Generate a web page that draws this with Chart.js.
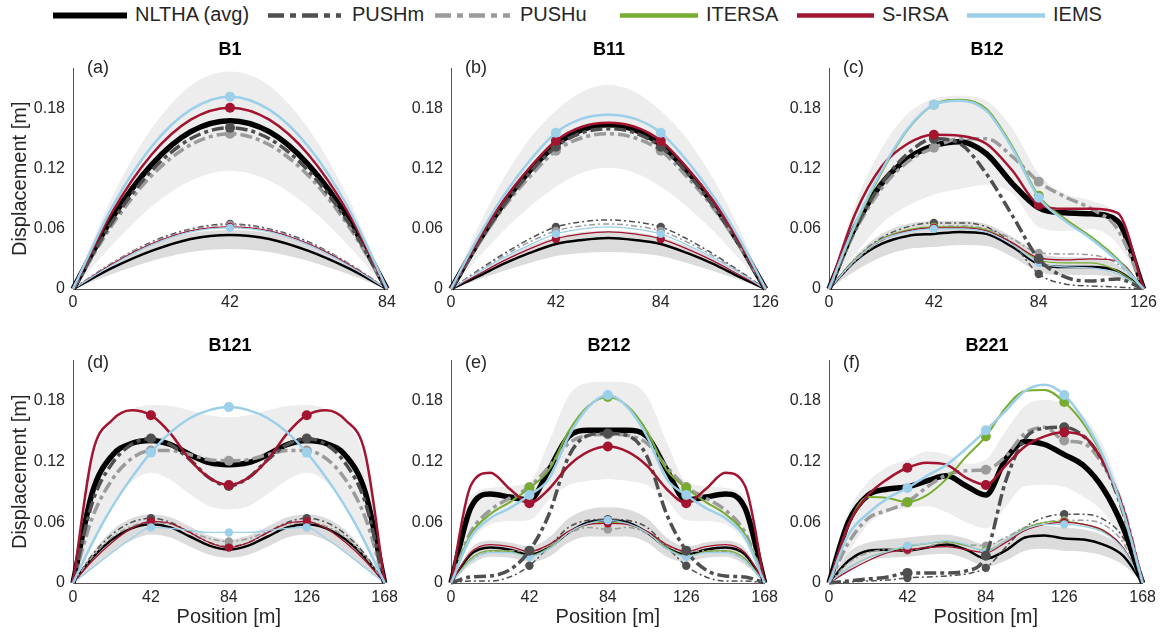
<!DOCTYPE html>
<html>
<head>
<meta charset="utf-8">
<script src="https://cdn.jsdelivr.net/npm/chart.js@4.4.1/dist/chart.umd.min.js"></script>
<style>
  body { margin: 0; background: #fff; }
  #wrap { position: relative; width: 1166px; height: 633px; overflow: hidden;
          font-family: "Liberation Sans", Arial, sans-serif; color: #262626; }
  canvas { position: absolute; }
  .ttl { position: absolute; font-weight: bold; font-size: 18px; color: #000;
         transform: translate(-50%, -50%); white-space: nowrap; z-index: 2; }
  .tag { position: absolute; font-size: 18px; transform: translateY(-50%); z-index: 2; }
  .lt { position: absolute; font-size: 20px; top: 14px; transform: translateY(-50%); white-space: nowrap; }
  svg.sw { position: absolute; top: 10px; }
</style>
</head>
<body>
<div id="wrap"></div>
<script>
// positions along the bridge [m]
const pos84 = [0, 10.5, 21, 31.5, 42, 52.5, 63, 73.5, 84];
const pos126 = [0, 10.5, 21, 31.5, 42, 52.5, 63, 73.5, 84, 94.5, 105, 115.5, 126];
const pos168 = [0, 10.5, 21, 31.5, 42, 52.5, 63, 73.5, 84, 94.5, 105, 115.5, 126, 136.5, 147, 157.5, 168];
const xt84 = [0, 42, 84];
const xt126 = [0, 42, 84, 126];
const xt168 = [0, 42, 84, 126, 168];
const yTicks = [0, 0.06, 0.12, 0.18];

// B1
const b1HiBandUp = [0, 0.092, 0.160, 0.203, 0.217, 0.203, 0.160, 0.092, 0];
const b1HiBandLo = [0, 0.044, 0.082, 0.108, 0.118, 0.108, 0.082, 0.044, 0];
const b1LoBandUp = [0, 0.026, 0.045, 0.056, 0.059, 0.056, 0.045, 0.026, 0];
const b1LoBandLo = [0, 0.015, 0.028, 0.037, 0.040, 0.037, 0.028, 0.015, 0];
const b1NlthaHi = [0, 0.071, 0.124, 0.157, 0.168, 0.157, 0.124, 0.071, 0];
const b1PushmHi = [0, 0.067, 0.118, 0.150, 0.161, 0.150, 0.118, 0.067, 0];
const b1PushuHi = [0, 0.064, 0.113, 0.144, 0.155, 0.144, 0.113, 0.064, 0];
const b1SirsaHi = [0, 0.077, 0.134, 0.169, 0.181, 0.169, 0.134, 0.077, 0];
const b1IemsHi = [0, 0.082, 0.142, 0.179, 0.192, 0.179, 0.142, 0.082, 0];
const b1NlthaLo = [0, 0.021, 0.038, 0.050, 0.054, 0.050, 0.038, 0.021, 0];
const b1PushmLo = [0, 0.026, 0.047, 0.060, 0.065, 0.060, 0.047, 0.026, 0];
const b1PushuLo = [0, 0.026, 0.046, 0.059, 0.064, 0.059, 0.046, 0.026, 0];
const b1SirsaLo = [0, 0.025, 0.045, 0.058, 0.062, 0.058, 0.045, 0.025, 0];
const b1IemsLo = [0, 0.024, 0.044, 0.057, 0.061, 0.057, 0.044, 0.024, 0];

// B11
const b11HiBandUp = [0, 0.060, 0.110, 0.150, 0.178, 0.197, 0.204, 0.197, 0.178, 0.150, 0.110, 0.060, 0];
const b11HiBandLo = [0, 0.030, 0.058, 0.082, 0.102, 0.116, 0.121, 0.116, 0.102, 0.082, 0.058, 0.030, 0];
const b11LoBandUp = [0, 0.015, 0.030, 0.043, 0.052, 0.057, 0.058, 0.057, 0.052, 0.043, 0.030, 0.015, 0];
const b11LoBandLo = [0, 0.009, 0.018, 0.026, 0.033, 0.036, 0.037, 0.036, 0.033, 0.026, 0.018, 0.009, 0];
const b11NlthaHi = [0, 0.045, 0.085, 0.118, 0.144, 0.159, 0.164, 0.159, 0.144, 0.118, 0.085, 0.045, 0];
const b11PushmHi = [0, 0.044, 0.083, 0.116, 0.142, 0.156, 0.160, 0.156, 0.142, 0.116, 0.083, 0.044, 0];
const b11PushuHi = [0, 0.043, 0.081, 0.112, 0.138, 0.151, 0.155, 0.151, 0.138, 0.112, 0.081, 0.043, 0];
const b11SirsaHi = [0, 0.047, 0.088, 0.121, 0.148, 0.162, 0.166, 0.162, 0.148, 0.121, 0.088, 0.047, 0];
const b11IemsHi = [0, 0.050, 0.093, 0.128, 0.156, 0.170, 0.174, 0.170, 0.156, 0.128, 0.093, 0.050, 0];
const b11NlthaLo = [0, 0.012, 0.025, 0.036, 0.045, 0.049, 0.051, 0.049, 0.045, 0.036, 0.025, 0.012, 0];
const b11PushmLo = [0, 0.018, 0.035, 0.050, 0.062, 0.067, 0.069, 0.067, 0.062, 0.050, 0.035, 0.018, 0];
const b11PushuLo = [0, 0.017, 0.033, 0.047, 0.058, 0.063, 0.065, 0.063, 0.058, 0.047, 0.033, 0.017, 0];
const b11SirsaLo = [0, 0.014, 0.028, 0.040, 0.050, 0.055, 0.057, 0.055, 0.050, 0.040, 0.028, 0.014, 0];
const b11IemsLo = [0, 0.016, 0.031, 0.044, 0.055, 0.060, 0.062, 0.060, 0.055, 0.044, 0.031, 0.016, 0];

// B12
const b12HiBandUp = [0, 0.085, 0.140, 0.175, 0.190, 0.193, 0.188, 0.160, 0.115, 0.095, 0.088, 0.072, 0];
const b12HiBandLo = [0, 0.035, 0.065, 0.083, 0.094, 0.100, 0.104, 0.095, 0.062, 0.058, 0.060, 0.045, 0];
const b12LoBandUp = [0, 0.033, 0.055, 0.065, 0.068, 0.068, 0.065, 0.052, 0.036, 0.032, 0.031, 0.024, 0];
const b12LoBandLo = [0, 0.018, 0.032, 0.040, 0.042, 0.044, 0.043, 0.032, 0.017, 0.014, 0.014, 0.011, 0];
const b12NlthaHi = [0, 0.062, 0.105, 0.130, 0.143, 0.147, 0.135, 0.105, 0.081, 0.076, 0.075, 0.068, 0];
const b12PushmHi = [0, 0.060, 0.105, 0.135, 0.150, 0.145, 0.115, 0.073, 0.030, 0.012, 0.008, 0.010, 0];
const b12PushuHi = [0, 0.058, 0.100, 0.127, 0.141, 0.150, 0.150, 0.132, 0.107, 0.092, 0.080, 0.060, 0];
const b12ItersaHi = [0, 0.063, 0.116, 0.159, 0.184, 0.189, 0.180, 0.142, 0.093, 0.070, 0.052, 0.030, 0];
const b12SirsaHi = [0, 0.075, 0.122, 0.145, 0.154, 0.153, 0.145, 0.118, 0.084, 0.080, 0.080, 0.076, 0];
const b12IemsHi = [0, 0.065, 0.118, 0.160, 0.184, 0.188, 0.178, 0.140, 0.091, 0.068, 0.050, 0.028, 0];
const b12NlthaLo = [0, 0.028, 0.045, 0.053, 0.055, 0.057, 0.055, 0.042, 0.025, 0.022, 0.022, 0.018, 0];
const b12PushmLo = [0, 0.030, 0.051, 0.062, 0.066, 0.066, 0.062, 0.045, 0.015, 0.005, 0.003, 0.002, 0];
const b12PushuLo = [0, 0.028, 0.048, 0.058, 0.062, 0.063, 0.060, 0.050, 0.036, 0.035, 0.034, 0.025, 0];
const b12ItersaLo = [0, 0.030, 0.050, 0.059, 0.062, 0.062, 0.059, 0.046, 0.029, 0.026, 0.026, 0.018, 0];
const b12SirsaLo = [0, 0.029, 0.049, 0.058, 0.061, 0.061, 0.058, 0.046, 0.031, 0.029, 0.030, 0.028, 0];
const b12IemsLo = [0, 0.029, 0.049, 0.057, 0.060, 0.060, 0.057, 0.044, 0.026, 0.022, 0.021, 0.015, 0];

// B121
const b121HiBandUp = [0, 0.120, 0.160, 0.172, 0.176, 0.175, 0.171, 0.166, 0.164, 0.166, 0.171, 0.175, 0.176, 0.172, 0.160, 0.120, 0];
const b121HiBandLo = [0, 0.040, 0.078, 0.100, 0.109, 0.102, 0.088, 0.076, 0.073, 0.076, 0.088, 0.102, 0.109, 0.100, 0.078, 0.040, 0];
const b121LoBandUp = [0, 0.030, 0.052, 0.064, 0.068, 0.065, 0.056, 0.047, 0.043, 0.047, 0.056, 0.065, 0.068, 0.064, 0.052, 0.030, 0];
const b121LoBandLo = [0, 0.014, 0.030, 0.042, 0.048, 0.045, 0.036, 0.028, 0.025, 0.028, 0.036, 0.045, 0.048, 0.042, 0.030, 0.014, 0];
const b121NlthaHi = [0, 0.090, 0.126, 0.138, 0.141, 0.137, 0.127, 0.119, 0.117, 0.119, 0.127, 0.137, 0.141, 0.138, 0.126, 0.090, 0];
const b121PushmHi = [0, 0.080, 0.118, 0.137, 0.143, 0.137, 0.122, 0.104, 0.096, 0.104, 0.122, 0.137, 0.143, 0.137, 0.118, 0.080, 0];
const b121PushuHi = [0, 0.065, 0.102, 0.123, 0.131, 0.131, 0.127, 0.122, 0.121, 0.122, 0.127, 0.131, 0.131, 0.123, 0.102, 0.065, 0];
const b121SirsaHi = [0, 0.128, 0.161, 0.171, 0.166, 0.148, 0.122, 0.104, 0.097, 0.104, 0.122, 0.148, 0.166, 0.171, 0.161, 0.128, 0];
const b121IemsHi = [0, 0.040, 0.075, 0.104, 0.129, 0.149, 0.163, 0.171, 0.174, 0.171, 0.163, 0.149, 0.129, 0.104, 0.075, 0.040, 0];
const b121NlthaLo = [0, 0.025, 0.043, 0.054, 0.058, 0.055, 0.046, 0.037, 0.033, 0.037, 0.046, 0.055, 0.058, 0.054, 0.043, 0.025, 0];
const b121PushmLo = [0, 0.028, 0.048, 0.060, 0.064, 0.060, 0.050, 0.040, 0.036, 0.040, 0.050, 0.060, 0.064, 0.060, 0.048, 0.028, 0];
const b121PushuLo = [0, 0.026, 0.045, 0.056, 0.060, 0.058, 0.051, 0.044, 0.041, 0.044, 0.051, 0.058, 0.060, 0.056, 0.045, 0.026, 0];
const b121SirsaLo = [0, 0.022, 0.040, 0.054, 0.061, 0.059, 0.050, 0.040, 0.035, 0.040, 0.050, 0.059, 0.061, 0.054, 0.040, 0.022, 0];
const b121IemsLo = [0, 0.015, 0.030, 0.044, 0.055, 0.054, 0.052, 0.050, 0.050, 0.050, 0.052, 0.054, 0.055, 0.044, 0.030, 0.015, 0];

// B212
const b212HiBandUp = [0, 0.085, 0.094, 0.096, 0.100, 0.140, 0.185, 0.198, 0.199, 0.198, 0.185, 0.140, 0.100, 0.096, 0.094, 0.085, 0];
const b212HiBandLo = [0, 0.040, 0.058, 0.061, 0.062, 0.082, 0.097, 0.101, 0.103, 0.101, 0.097, 0.082, 0.062, 0.061, 0.058, 0.040, 0];
const b212LoBandUp = [0, 0.034, 0.042, 0.040, 0.036, 0.045, 0.064, 0.073, 0.075, 0.073, 0.064, 0.045, 0.036, 0.040, 0.042, 0.034, 0];
const b212LoBandLo = [0, 0.018, 0.026, 0.025, 0.021, 0.026, 0.040, 0.046, 0.046, 0.046, 0.040, 0.026, 0.021, 0.025, 0.026, 0.018, 0];
const b212NlthaHi = [0, 0.074, 0.088, 0.085, 0.082, 0.112, 0.145, 0.151, 0.151, 0.151, 0.145, 0.112, 0.082, 0.085, 0.088, 0.074, 0];
const b212PushmHi = [0, 0.006, 0.007, 0.013, 0.032, 0.068, 0.125, 0.146, 0.148, 0.146, 0.125, 0.068, 0.032, 0.013, 0.007, 0.006, 0];
const b212PushuHi = [0, 0.050, 0.072, 0.084, 0.095, 0.115, 0.138, 0.146, 0.147, 0.146, 0.138, 0.115, 0.095, 0.084, 0.072, 0.050, 0];
const b212ItersaHi = [0, 0.048, 0.068, 0.080, 0.094, 0.112, 0.150, 0.175, 0.184, 0.175, 0.150, 0.112, 0.094, 0.080, 0.068, 0.048, 0];
const b212SirsaHi = [0, 0.096, 0.109, 0.093, 0.079, 0.093, 0.116, 0.130, 0.135, 0.130, 0.116, 0.093, 0.079, 0.093, 0.109, 0.096, 0];
const b212IemsHi = [0, 0.045, 0.064, 0.074, 0.087, 0.103, 0.145, 0.174, 0.186, 0.174, 0.145, 0.103, 0.087, 0.074, 0.064, 0.045, 0];
const b212NlthaLo = [0, 0.028, 0.035, 0.033, 0.028, 0.035, 0.050, 0.060, 0.062, 0.060, 0.050, 0.035, 0.028, 0.033, 0.035, 0.028, 0];
const b212PushmLo = [0, 0.002, 0.002, 0.006, 0.017, 0.036, 0.055, 0.062, 0.063, 0.062, 0.055, 0.036, 0.017, 0.006, 0.002, 0.002, 0];
const b212PushuLo = [0, 0.022, 0.031, 0.032, 0.031, 0.037, 0.049, 0.055, 0.053, 0.055, 0.049, 0.037, 0.031, 0.032, 0.031, 0.022, 0];
const b212ItersaLo = [0, 0.024, 0.032, 0.031, 0.027, 0.035, 0.050, 0.058, 0.060, 0.058, 0.050, 0.035, 0.027, 0.031, 0.032, 0.024, 0];
const b212SirsaLo = [0, 0.030, 0.038, 0.036, 0.031, 0.038, 0.051, 0.058, 0.059, 0.058, 0.051, 0.038, 0.031, 0.036, 0.038, 0.030, 0];
const b212IemsLo = [0, 0.022, 0.030, 0.030, 0.026, 0.034, 0.050, 0.059, 0.062, 0.059, 0.050, 0.034, 0.026, 0.030, 0.030, 0.022, 0];

// B221
const b221HiBandUp = [0, 0.070, 0.100, 0.115, 0.122, 0.130, 0.127, 0.118, 0.122, 0.150, 0.175, 0.181, 0.178, 0.165, 0.135, 0.080, 0];
const b221HiBandLo = [0, 0.030, 0.058, 0.070, 0.074, 0.076, 0.070, 0.060, 0.054, 0.075, 0.096, 0.097, 0.095, 0.085, 0.070, 0.040, 0];
const b221LoBandUp = [0, 0.030, 0.040, 0.043, 0.045, 0.047, 0.048, 0.044, 0.038, 0.045, 0.056, 0.057, 0.055, 0.053, 0.047, 0.034, 0];
const b221LoBandLo = [0, 0.012, 0.022, 0.025, 0.026, 0.028, 0.029, 0.024, 0.016, 0.022, 0.032, 0.034, 0.032, 0.031, 0.027, 0.018, 0];
const b221NlthaHi = [0, 0.061, 0.087, 0.093, 0.095, 0.101, 0.106, 0.096, 0.087, 0.122, 0.140, 0.137, 0.127, 0.116, 0.093, 0.055, 0];
const b221PushmHi = [0, 0.002, 0.004, 0.006, 0.010, 0.010, 0.010, 0.012, 0.027, 0.100, 0.143, 0.153, 0.154, 0.145, 0.119, 0.070, 0];
const b221PushuHi = [0, 0.040, 0.064, 0.072, 0.080, 0.095, 0.107, 0.111, 0.112, 0.125, 0.148, 0.154, 0.141, 0.138, 0.116, 0.075, 0];
const b221ItersaHi = [0, 0.058, 0.085, 0.084, 0.080, 0.087, 0.103, 0.125, 0.145, 0.173, 0.190, 0.191, 0.179, 0.157, 0.123, 0.070, 0];
const b221SirsaHi = [0, 0.058, 0.087, 0.103, 0.114, 0.119, 0.117, 0.104, 0.097, 0.116, 0.135, 0.145, 0.149, 0.145, 0.119, 0.074, 0];
const b221IemsHi = [0, 0.048, 0.069, 0.084, 0.094, 0.106, 0.117, 0.133, 0.151, 0.170, 0.190, 0.196, 0.186, 0.161, 0.125, 0.071, 0];
const b221NlthaLo = [0, 0.022, 0.032, 0.033, 0.032, 0.035, 0.038, 0.033, 0.024, 0.032, 0.045, 0.047, 0.044, 0.043, 0.038, 0.027, 0];
const b221PushmLo = [0, 0.001, 0.002, 0.003, 0.005, 0.006, 0.007, 0.009, 0.015, 0.035, 0.055, 0.065, 0.068, 0.068, 0.063, 0.045, 0];
const b221PushuLo = [0, 0.020, 0.030, 0.033, 0.032, 0.036, 0.040, 0.038, 0.037, 0.045, 0.055, 0.060, 0.062, 0.062, 0.058, 0.040, 0];
const b221ItersaLo = [0, 0.015, 0.025, 0.031, 0.036, 0.039, 0.041, 0.037, 0.032, 0.042, 0.054, 0.060, 0.061, 0.058, 0.051, 0.035, 0];
const b221SirsaLo = [0, 0.012, 0.022, 0.030, 0.033, 0.035, 0.036, 0.033, 0.030, 0.040, 0.052, 0.058, 0.060, 0.058, 0.052, 0.035, 0];
const b221IemsLo = [0, 0.015, 0.025, 0.031, 0.037, 0.039, 0.042, 0.038, 0.031, 0.042, 0.053, 0.058, 0.058, 0.056, 0.050, 0.034, 0];

const FONT = '"Liberation Sans", Arial, sans-serif';
const TXT = '#262626';

const styles = {
  nltha:  { label: 'NLTHA (avg)', color: '#000000', hiW: 5.5, loW: 2.5, hiDash: [], loDash: [], marker: false },
  pushm:  { label: 'PUSHm', color: '#4f4f4f', hiW: 3.5, loW: 1.5, hiDash: [12, 4, 4, 4], loDash: [6, 3, 2, 3], marker: true },
  pushu:  { label: 'PUSHu', color: '#9b9b9b', hiW: 3.5, loW: 1.5, hiDash: [12, 4, 4, 4], loDash: [6, 3, 2, 3], marker: true },
  itersa: { label: 'ITERSA', color: '#77ac30', hiW: 2, loW: 1.2, hiDash: [], loDash: [], marker: true },
  sirsa:  { label: 'S-IRSA', color: '#a2142f', hiW: 2.5, loW: 1.3, hiDash: [], loDash: [], marker: true },
  iems:   { label: 'IEMS', color: '#9ccfea', hiW: 2.5, loW: 1.3, hiDash: [], loDash: [], marker: true },
};
const loOrder = ['nltha', 'pushm', 'pushu', 'itersa', 'sirsa', 'iems'];
const hiOrder = ['nltha', 'pushu', 'pushm', 'itersa', 'sirsa', 'iems'];

const panels = [
  { name: 'B1', tag: '(a)', row: 0, col: 0, len: 84, pos: pos84, xt: xt84,
    hiBand: [b1HiBandUp, b1HiBandLo], loBand: [b1LoBandUp, b1LoBandLo],
    hi: { nltha: b1NlthaHi, pushm: b1PushmHi, pushu: b1PushuHi, sirsa: b1SirsaHi, iems: b1IemsHi },
    lo: { nltha: b1NlthaLo, pushm: b1PushmLo, pushu: b1PushuLo, sirsa: b1SirsaLo, iems: b1IemsLo } },
  { name: 'B11', tag: '(b)', row: 0, col: 1, len: 126, pos: pos126, xt: xt126,
    hiBand: [b11HiBandUp, b11HiBandLo], loBand: [b11LoBandUp, b11LoBandLo],
    hi: { nltha: b11NlthaHi, pushm: b11PushmHi, pushu: b11PushuHi, sirsa: b11SirsaHi, iems: b11IemsHi },
    lo: { nltha: b11NlthaLo, pushm: b11PushmLo, pushu: b11PushuLo, sirsa: b11SirsaLo, iems: b11IemsLo } },
  { name: 'B12', tag: '(c)', row: 0, col: 2, len: 126, pos: pos126, xt: xt126,
    hiBand: [b12HiBandUp, b12HiBandLo], loBand: [b12LoBandUp, b12LoBandLo],
    hi: { nltha: b12NlthaHi, pushm: b12PushmHi, pushu: b12PushuHi, itersa: b12ItersaHi, sirsa: b12SirsaHi, iems: b12IemsHi },
    lo: { nltha: b12NlthaLo, pushm: b12PushmLo, pushu: b12PushuLo, itersa: b12ItersaLo, sirsa: b12SirsaLo, iems: b12IemsLo } },
  { name: 'B121', tag: '(d)', row: 1, col: 0, len: 168, pos: pos168, xt: xt168,
    hiBand: [b121HiBandUp, b121HiBandLo], loBand: [b121LoBandUp, b121LoBandLo],
    hi: { nltha: b121NlthaHi, pushm: b121PushmHi, pushu: b121PushuHi, sirsa: b121SirsaHi, iems: b121IemsHi },
    lo: { nltha: b121NlthaLo, pushm: b121PushmLo, pushu: b121PushuLo, sirsa: b121SirsaLo, iems: b121IemsLo } },
  { name: 'B212', tag: '(e)', row: 1, col: 1, len: 168, pos: pos168, xt: xt168,
    hiBand: [b212HiBandUp, b212HiBandLo], loBand: [b212LoBandUp, b212LoBandLo],
    hi: { nltha: b212NlthaHi, pushm: b212PushmHi, pushu: b212PushuHi, itersa: b212ItersaHi, sirsa: b212SirsaHi, iems: b212IemsHi },
    lo: { nltha: b212NlthaLo, pushm: b212PushmLo, pushu: b212PushuLo, itersa: b212ItersaLo, sirsa: b212SirsaLo, iems: b212IemsLo } },
  { name: 'B221', tag: '(f)', row: 1, col: 2, len: 168, pos: pos168, xt: xt168,
    hiBand: [b221HiBandUp, b221HiBandLo], loBand: [b221LoBandUp, b221LoBandLo],
    hi: { nltha: b221NlthaHi, pushm: b221PushmHi, pushu: b221PushuHi, itersa: b221ItersaHi, sirsa: b221SirsaHi, iems: b221IemsHi },
    lo: { nltha: b221NlthaLo, pushm: b221PushmLo, pushu: b221PushuLo, itersa: b221ItersaLo, sirsa: b221SirsaLo, iems: b221IemsLo } },
];

// layout of the grid
const cols = [{ left: 0, w: 314 }, { left: 378, w: 316 }, { left: 756, w: 316 }];
const rows = [{ top: 51, h: 226, xh: 30 }, { top: 343, h: 228, xh: 47 }];
const YW = 73, PADT = 12, PADR = 16;

const wrap = document.getElementById('wrap');

// legend
const legendItems = [
  { key: 'nltha', x0: 53, x1: 127, tx: 135, w: 6 },
  { key: 'pushm', x0: 268, x1: 341, tx: 352, w: 4.5 },
  { key: 'pushu', x0: 435, x1: 510, tx: 520, w: 4.5 },
  { key: 'itersa', x0: 620, x1: 698, tx: 706, w: 4.5 },
  { key: 'sirsa', x0: 797, x1: 874, tx: 882, w: 4.5 },
  { key: 'iems', x0: 967, x1: 1045, tx: 1053, w: 4.5 },
];
legendItems.forEach((it) => {
  const s = styles[it.key];
  const dash = s.hiDash.length ? 'stroke-dasharray="16 6 6 6"' : '';
  const svg = document.createElementNS('http://www.w3.org/2000/svg', 'svg');
  svg.setAttribute('class', 'sw');
  svg.setAttribute('width', it.x1 - it.x0);
  svg.setAttribute('height', 11);
  svg.style.left = it.x0 + 'px';
  svg.innerHTML = `<line x1="0" y1="5.5" x2="${it.x1 - it.x0}" y2="5.5" stroke="${s.color}" stroke-width="${it.w}" ${dash}/>`;
  wrap.appendChild(svg);
  const t = document.createElement('span');
  t.className = 'lt';
  t.style.left = it.tx + 'px';
  t.textContent = s.label;
  wrap.appendChild(t);
});

function pts(pos, arr) {
  return arr.map((y, i) => ({ x: pos[i], y }));
}

function buildDatasets(p) {
  const ds = [];
  const band = (pair, color) => {
    ds.push({ data: pts(p.pos, pair[0]), fill: '+1', backgroundColor: color, borderWidth: 0, pointRadius: 0 });
    ds.push({ data: pts(p.pos, pair[1]), fill: false, borderWidth: 0, pointRadius: 0 });
  };
  band(p.hiBand, '#ededed');
  band(p.loBand, '#dcdcdc');

  const series = (set, order, hi) => {
    order.forEach((k) => {
      if (!set[k]) return;
      const s = styles[k];
      const r = s.marker ? (hi ? 5 : 4.2) : 0;
      ds.push({
        data: pts(p.pos, set[k]),
        borderColor: s.color,
        backgroundColor: s.color,
        borderWidth: hi ? s.hiW : s.loW,
        borderDash: hi ? s.hiDash : s.loDash,
        fill: false,
        pointBorderWidth: 0,
        pointBackgroundColor: s.color,
        pointRadius: (c) => {
          const x = c.raw && c.raw.x;
          return x > 0 && x < p.len && x % 42 === 0 ? r : 0;
        },
      });
    });
  };
  series(p.lo, loOrder, false);
  series(p.hi, hiOrder, true);

  // later datasets on top
  ds.forEach((d, i) => {
    d.order = -i;
    d.cubicInterpolationMode = 'monotone';
    d.clip = false;
  });
  return ds;
}

panels.forEach((p) => {
  const c = cols[p.col];
  const r = rows[p.row];
  const cw = YW + c.w + PADR;
  const ch = PADT + r.h + r.xh;

  const cv = document.createElement('canvas');
  cv.width = cw;
  cv.height = ch;
  cv.style.left = c.left + 'px';
  cv.style.top = r.top + 'px';
  cv.style.width = cw + 'px';
  cv.style.height = ch + 'px';
  wrap.appendChild(cv);

  const title = document.createElement('div');
  title.className = 'ttl';
  title.textContent = p.name;
  title.style.left = c.left + YW + c.w / 2 + 'px';
  title.style.top = (p.row === 0 ? 48.5 : 345) + 'px';
  wrap.appendChild(title);

  const tag = document.createElement('div');
  tag.className = 'tag';
  tag.textContent = p.tag;
  tag.style.left = c.left + YW + 14 + 'px';
  tag.style.top = (p.row === 0 ? 67 : 362) + 'px';
  wrap.appendChild(tag);

  new Chart(cv, {
    type: 'line',
    data: { datasets: buildDatasets(p) },
    options: {
      responsive: false,
      animation: false,
      devicePixelRatio: 1,
      layout: { padding: { top: PADT, right: PADR, left: 0, bottom: 0 } },
      plugins: { legend: { display: false }, tooltip: { enabled: false } },
      scales: {
        x: {
          type: 'linear',
          min: 0,
          max: p.len,
          afterBuildTicks: (s) => { s.ticks = p.xt.map((v) => ({ value: v })); },
          afterFit: (s) => { s.height = r.xh; },
          grid: { display: false, drawTicks: false },
          border: { display: true, color: '#555555', width: 1 },
          ticks: {
            padding: p.row === 0 ? 4 : 5,
            color: TXT,
            autoSkip: false,
            maxRotation: 0,
            font: { family: FONT, size: 16 },
            callback: (v) => String(v),
          },
          title: {
            display: p.row === 1,
            text: 'Position [m]',
            color: TXT,
            font: { family: FONT, size: 20 },
            padding: { top: 0, bottom: 1 },
          },
        },
        y: {
          min: 0,
          max: 0.22,
          afterBuildTicks: (s) => { s.ticks = yTicks.map((v) => ({ value: v })); },
          afterFit: (s) => { s.width = YW; },
          grid: { display: false, drawTicks: false },
          border: { display: true, color: '#555555', width: 1 },
          ticks: {
            padding: 8,
            color: TXT,
            font: { family: FONT, size: 16 },
            callback: (v) => (v === 0 ? '0' : v.toFixed(2)),
          },
          title: {
            display: p.col === 0,
            text: 'Displacement [m]',
            color: TXT,
            font: { family: FONT, size: 20 },
            padding: { top: 8, bottom: 0 },
          },
        },
      },
    },
  });
});
</script>
</body>
</html>
